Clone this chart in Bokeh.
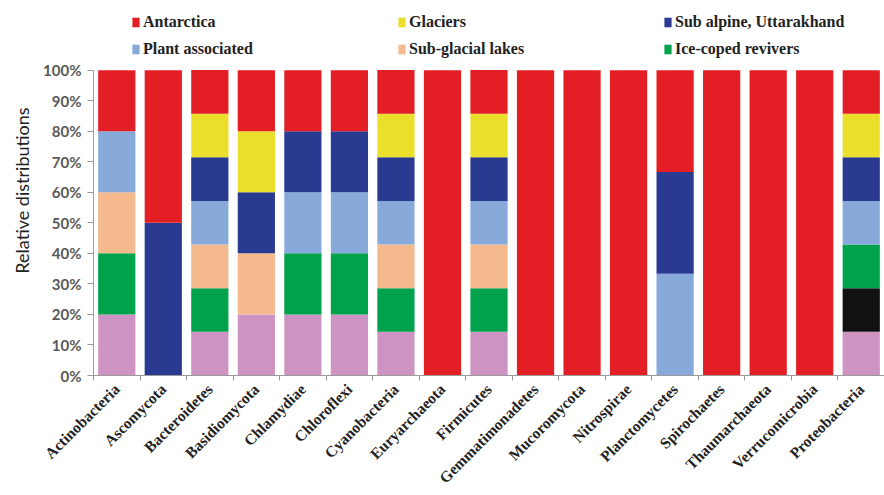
import math
from bokeh.plotting import figure
from bokeh.models import (Range1d, LinearAxis, FixedTicker, PrintfTickFormatter,
                          Legend, LegendItem, ColumnDataSource, Title)
from bokeh.embed import file_html
from bokeh.resources import INLINE

categories = ["Actinobacteria", "Ascomycota", "Bacteroidetes", "Basidiomycota", "Chlamydiae",
              "Chloroflexi", "Cyanobacteria", "Euryarchaeota", "Firmicutes", "Gemmatimonadetes",
              "Mucoromycota", "Nitrospirae", "Planctomycetes", "Spirochaetes", "Thaumarchaeota",
              "Verrucomicrobia", "Proteobacteria"]

# percentages per category, bottom to top of the stack
other_pink = [20, 0, 14.29, 20, 20, 20, 14.29, 0, 14.29, 0, 0, 0, 0, 0, 0, 0, 14.29]
other_black = [0, 0, 0, 0, 0, 0, 0, 0, 0, 0, 0, 0, 0, 0, 0, 0, 14.29]
ice_coped = [20, 0, 14.29, 0, 20, 20, 14.29, 0, 14.29, 0, 0, 0, 0, 0, 0, 0, 14.29]
sub_glacial = [20, 0, 14.29, 20, 0, 0, 14.29, 0, 14.29, 0, 0, 0, 0, 0, 0, 0, 0]
plant_assoc = [20, 0, 14.29, 0, 20, 20, 14.29, 0, 14.29, 0, 0, 0, 33.33, 0, 0, 0, 14.29]
sub_alpine = [0, 50, 14.29, 20, 20, 20, 14.29, 0, 14.29, 0, 0, 0, 33.33, 0, 0, 0, 14.29]
glaciers = [0, 0, 14.29, 20, 0, 0, 14.29, 0, 14.29, 0, 0, 0, 0, 0, 0, 0, 14.29]
antarctica = [20, 50, 14.29, 20, 20, 20, 14.29, 100, 14.29, 100, 100, 100, 33.34, 100, 100, 100, 14.26]

y_ticks = [0, 10, 20, 30, 40, 50, 60, 70, 80, 90, 100]

stack_keys = ["other_pink", "other_black", "ice_coped", "sub_glacial", "plant_assoc",
              "sub_alpine", "glaciers", "antarctica"]
colors = ["#CD94C3", "#111114", "#00A24C", "#F5B98E", "#88AADB", "#2B3A91", "#EAE02B", "#E31E25"]

n = len(categories)
centers = [i + 0.5 for i in range(n)]

source = ColumnDataSource(dict(
    x=centers, other_pink=other_pink, other_black=other_black, ice_coped=ice_coped,
    sub_glacial=sub_glacial, plant_assoc=plant_assoc, sub_alpine=sub_alpine,
    glaciers=glaciers, antarctica=antarctica))

# frame from y=5 to y=377; 100% should sit at y=70
p = figure(x_range=Range1d(0, n), y_range=Range1d(0, 100 * 372 / 307),
           width=884, height=495, output_backend="svg", toolbar_location=None,
           x_axis_location=None, y_axis_location=None,
           min_border_left=93, min_border_right=0, min_border_top=5, min_border_bottom=118)
p.outline_line_color = None
p.xgrid.grid_line_color = None
p.ygrid.grid_line_color = None

rs = p.vbar_stack(stack_keys, x="x", width=0.8, color=colors, source=source, line_color=None)

# y axis
yaxis = LinearAxis(ticker=FixedTicker(ticks=y_ticks), formatter=PrintfTickFormatter(format="%d%%"),
                   bounds=(0, 100))
yaxis.major_label_text_font = "Lato"
yaxis.major_label_text_font_style = "bold"
yaxis.major_label_text_font_size = "15px"
yaxis.major_label_text_color = "#595959"
yaxis.major_label_standoff = 6
yaxis.axis_line_color = "#9a9a9a"
yaxis.major_tick_line_color = "#9a9a9a"
yaxis.major_tick_out = 6
yaxis.major_tick_in = 0
yaxis.minor_tick_line_color = None
p.add_layout(yaxis, "left")

ytitle = Title(text="Relative distributions", align="center", offset=28,
               text_font="Lato", text_font_size="18px", text_font_style="normal",
               text_color="#222222", standoff=15)
p.add_layout(ytitle, "left")

# x axis: tick marks between categories (no labels)
tick_axis = LinearAxis(ticker=FixedTicker(ticks=list(range(n + 1))))
tick_axis.major_label_text_font_size = "1px"
tick_axis.major_label_text_color = None
tick_axis.major_label_standoff = 0
tick_axis.axis_line_color = "#9a9a9a"
tick_axis.major_tick_line_color = "#9a9a9a"
tick_axis.major_tick_out = 5
tick_axis.major_tick_in = 0
tick_axis.minor_tick_line_color = None
p.add_layout(tick_axis, "below")

# x axis: category labels at bar centres
label_axis = LinearAxis(ticker=FixedTicker(ticks=centers))
label_axis.major_label_overrides = {c: lab for c, lab in zip(centers, categories)}
label_axis.axis_line_color = None
label_axis.major_tick_line_color = None
label_axis.minor_tick_line_color = None
label_axis.major_label_orientation = math.pi / 4
label_axis.major_label_text_font = "Liberation Serif"
label_axis.major_label_text_font_style = "bold"
label_axis.major_label_text_font_size = "15.5px"
label_axis.major_label_text_color = "#222222"
label_axis.major_label_standoff = 0
p.add_layout(label_axis, "below")

# legend
legend_order = [("Antarctica", 7), ("Glaciers", 6), ("Sub alpine, Uttarakhand", 5),
                ("Plant associated", 4), ("Sub-glacial lakes", 3), ("Ice-coped revivers", 2)]
items = [LegendItem(label=lab, renderers=[rs[i]]) for lab, i in legend_order]
legend = Legend(items=items, orientation="horizontal", ncols=3, location=(38, 317),
                label_width=245, spacing=9, glyph_width=9, glyph_height=12, label_standoff=3,
                label_text_font="Liberation Serif", label_text_font_style="bold",
                label_text_font_size="16px", label_text_color="#222222",
                background_fill_alpha=0, border_line_color=None, padding=6, margin=0)
p.add_layout(legend)

open("out.html", "w").write(file_html(p, INLINE))
